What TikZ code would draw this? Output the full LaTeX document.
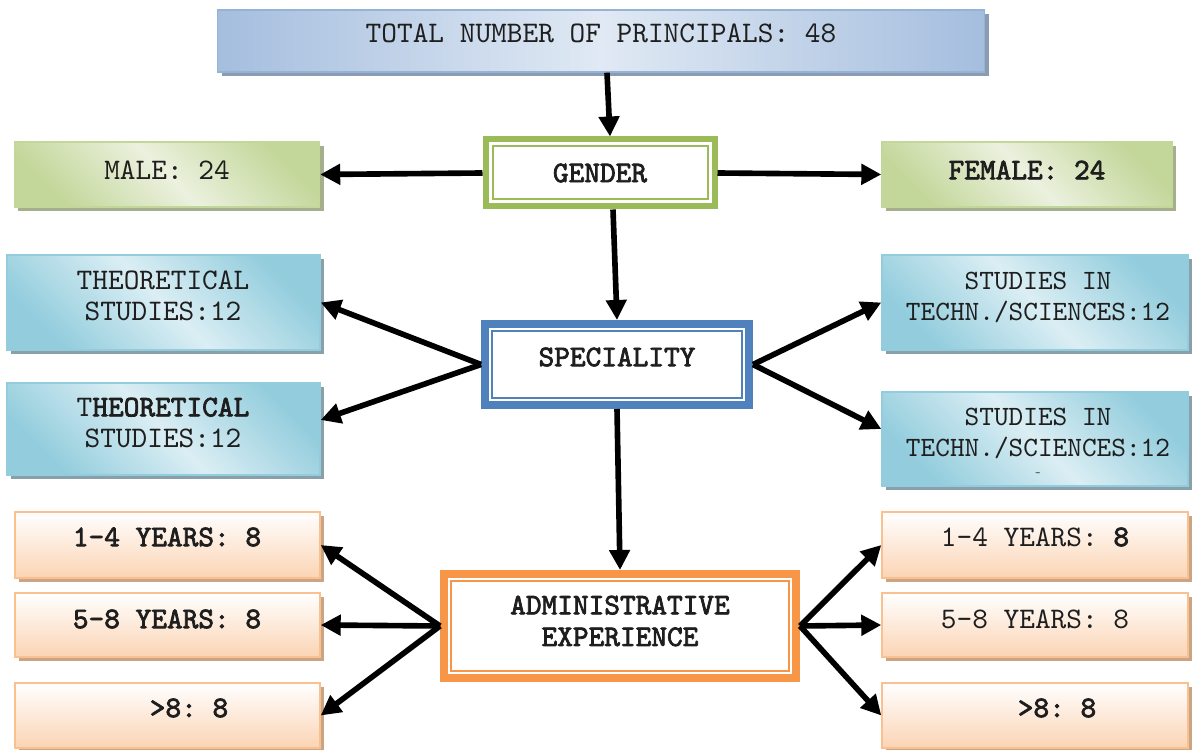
\documentclass[tikz,border=0pt]{standalone}
\usepackage{fontspec}
\usepackage{tikz}
\usetikzlibrary{arrows.meta,shapes,positioning,shadows}
\usepackage{xcolor}
\setmonofont{lmmono10-regular.otf}[BoldFont=lmmono10-regular.otf, BoldFeatures={FakeBold=2.5}]
\definecolor{txtgray}{RGB}{30,30,30}
\definecolor{bluedark}{RGB}{165,190,222}
\definecolor{bluelight}{RGB}{224,233,244}
\definecolor{blueline}{RGB}{149,179,215}
\definecolor{blueshd}{RGB}{138,155,178}
\definecolor{grndark}{RGB}{196,215,155}
\definecolor{grnlight}{RGB}{235,241,222}
\definecolor{grnshd}{RGB}{165,175,140}
\definecolor{gendgreen}{RGB}{155,187,89}
\definecolor{tealdark}{RGB}{147,205,221}
\definecolor{teallight}{RGB}{219,238,244}
\definecolor{tealshd}{RGB}{137,160,170}
\definecolor{specblue}{RGB}{79,129,189}
\definecolor{orgfill}{RGB}{251,212,180}
\definecolor{orgline}{RGB}{250,192,144}
\definecolor{orgshd}{RGB}{201,165,132}
\definecolor{admorange}{RGB}{247,150,70}
\tikzstyle{arrow} = [line width=3.2pt,-{Triangle[length=0.4cm,width=0.4cm]},color=black]
\tikzstyle{txt} = [font=\ttfamily\fontsize{17}{18}\selectfont, text=txtgray, align=center]
\tikzset{
    topbox/.style={rectangle, draw=blueline, line width=0.8pt, left color=bluedark, right color=bluedark, middle color=bluelight,
        drop shadow={shadow xshift=0.08cm, shadow yshift=-0.08cm, fill=blueshd, opacity=1}},
    grnbox/.style={rectangle, draw=grndark, line width=0.8pt, top color=grndark, bottom color=grndark, middle color=grnlight, shading angle=-45,
        drop shadow={shadow xshift=0.08cm, shadow yshift=-0.08cm, fill=grnshd, opacity=1}},
    tealbox/.style={rectangle, draw=tealdark, line width=0.8pt, top color=tealdark, bottom color=tealdark, middle color=teallight, shading angle=-45,
        drop shadow={shadow xshift=0.08cm, shadow yshift=-0.08cm, fill=tealshd, opacity=1}},
    orgbox/.style={rectangle, draw=orgline, line width=0.8pt, top color=white, bottom color=orgfill,
        drop shadow={shadow xshift=0.08cm, shadow yshift=-0.08cm, fill=orgshd, opacity=1}},
    dblbox/.style={rectangle, draw=#1, line width=0.16cm, fill=white,
        path picture={\draw[#1, line width=0.04cm] ([shift={(0.14cm,0.14cm)}]path picture bounding box.south west) rectangle ([shift={(-0.14cm,-0.14cm)}]path picture bounding box.north east);}}
}
\begin{document}
\begin{tikzpicture}
    \useasboundingbox (0,0) rectangle (23.88,14.98);

    % Total
    \node[topbox, minimum width=15.34cm, minimum height=1.24cm] (total) at (12.02,14.16) {};
    \node[txt] (totaltxt) at (12.02,14.32) {TOTAL NUMBER OF PRINCIPALS: 48};

    % Gender
    \node[dblbox=gendgreen, line width=0.12cm, minimum width=4.58cm, minimum height=1.34cm] (gender) at (12.0,11.52) {};
    \node[txt] (gendertxt) at (12.0,11.52) {\bfseries GENDER};
    \node[grnbox, minimum width=6.1cm, minimum height=1.3cm] (male) at (3.34,11.49) {};
    \node[txt] (maletxt) at (3.34,11.58) {MALE: 24};
    \node[grnbox, minimum width=5.8cm, minimum height=1.3cm] (female) at (20.54,11.49) {};
    \node[txt] (femaletxt) at (20.54,11.58) {\bfseries FEMALE: 24};

    % Speciality
    \node[dblbox=specblue, minimum width=5.28cm, minimum height=1.62cm] (spec) at (12.34,7.69) {};
    \node[txt] (spectxt) at (12.34,7.84) {\bfseries SPECIALITY};
    \node[tealbox, minimum width=6.26cm, minimum height=1.9cm] (theo1) at (3.27,8.93) {};
    \node[txt] (theo1txt) at (3.26,9.06) {THEORETICAL\\STUDIES:12};
    \node[tealbox, minimum width=6.26cm, minimum height=1.84cm] (theo2) at (3.27,6.4) {};
    \node[txt] (theo2txt) at (3.26,6.52) {T\textbf{HEORETICAL}\\STUDIES:12};
    \node[tealbox, minimum width=6.12cm, minimum height=1.9cm] (stud1) at (20.70,8.93) {};
    \node[txt, font=\ttfamily\fontsize{15.9}{17.6}\selectfont] (stud1txt) at (20.76,9.03) {STUDIES IN\\TECHN./SCIENCES:12};
    \node[tealbox, minimum width=6.12cm, minimum height=1.88cm] (stud2) at (20.70,6.2) {};
    \node[txt, font=\ttfamily\fontsize{15.9}{17.6}\selectfont] (stud2txt) at (20.76,6.31) {STUDIES IN\\TECHN./SCIENCES:12};
    \node[txt, font=\ttfamily\fontsize{6}{7}\selectfont] (stud2dash) at (20.76,5.48) {-};

    % Administrative experience
    \node[dblbox=admorange, minimum width=7.04cm, minimum height=2.08cm] (admin) at (12.4,2.46) {};
    \node[txt] (admintxt) at (12.4,2.56) {\bfseries ADMINISTRATIVE\\\bfseries EXPERIENCE};
    \node[orgbox, minimum width=6.1cm, minimum height=1.32cm] (lyrs1) at (3.35,4.08) {};
    \node[txt] (lyrs1txt) at (3.34,4.24) {\bfseries 1-4 YEARS: 8};
    \node[orgbox, minimum width=6.1cm, minimum height=1.28cm] (lyrs2) at (3.35,2.48) {};
    \node[txt] (lyrs2txt) at (3.34,2.6) {\bfseries 5-8 YEARS: 8};
    \node[orgbox, minimum width=6.1cm, minimum height=1.3cm] (lyrs3) at (3.35,0.67) {};
    \node[txt] (lyrs3txt) at (3.78,0.82) {\bfseries >8: 8};
    \node[orgbox, minimum width=6.12cm, minimum height=1.32cm] (ryrs1) at (20.70,4.08) {};
    \node[txt] (ryrs1txt) at (20.70,4.24) {1-4 YEARS: \textbf{8}};
    \node[orgbox, minimum width=6.12cm, minimum height=1.28cm] (ryrs2) at (20.70,2.48) {};
    \node[txt] (ryrs2txt) at (20.70,2.6) {5-8 YEARS: 8};
    \node[orgbox, minimum width=6.12cm, minimum height=1.3cm] (ryrs3) at (20.70,0.67) {};
    \node[txt] (ryrs3txt) at (21.14,0.82) {\bfseries >8: 8};

    % Arrows
    \draw[arrow] ([xshift=0.12cm]total.south) -- ([xshift=0.2cm]gender.north);
    \draw[arrow] (gender.west) -- (male.east);
    \draw[arrow] (gender.east) -- (female.west);
    \draw[arrow] ([xshift=0.26cm]gender.south) -- (spec.north);
    \draw[arrow] (spec.west) -- (theo1.east);
    \draw[arrow] (spec.west) -- ([yshift=0.18cm]theo2.east);
    \draw[arrow] (spec.east) -- (stud1.west);
    \draw[arrow] (spec.east) -- ([yshift=0.2cm]stud2.west);
    \draw[arrow] (spec.south) -- (admin.north);
    \foreach \b in {lyrs1,lyrs2,lyrs3}
        \draw[arrow] (admin.west) -- (\b.east);
    \foreach \b in {ryrs1,ryrs2,ryrs3}
        \draw[arrow] (admin.east) -- (\b.west);
\end{tikzpicture}
\end{document}
